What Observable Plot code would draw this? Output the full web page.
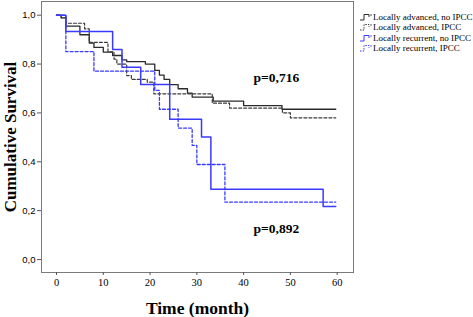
<!DOCTYPE html>
<html><head><meta charset="utf-8">
<script src="https://cdn.jsdelivr.net/npm/d3@7"></script>
<script src="https://cdn.jsdelivr.net/npm/@observablehq/plot@0.6"></script>
<style>
html,body{margin:0;padding:0;background:#fff;}
#wrap{position:relative;width:473px;height:317px;overflow:hidden;}
#legend{position:absolute;left:360px;top:11.5px;font-family:"Liberation Serif";font-size:9px;color:#000;white-space:nowrap;}
#legend .row{height:10.5px;line-height:10.5px;display:flex;align-items:center;}
#legend svg{margin-right:1px;}
</style></head><body><div id="wrap"></div>
<script>
// Series names (legend order)
const seriesNames = ["Locally advanced, no IPCC","Locally advanced, IPCC","Locally recurrent, no IPCC","Locally recurrent, IPCC"];
// Step survival curves: times (months) and cumulative survival
const laNoT  = [0,1,2,5,7,8,10,12,14,15,19,21,22,23,24.2,26,28,29,33.5,40,48.2,59.7];
const laNoS  = [1,0.989,0.955,0.92,0.886,0.868,0.849,0.835,0.817,0.81,0.80,0.774,0.755,0.737,0.716,0.699,0.681,0.665,0.648,0.63,0.615,0.615];
const laYesT = [0,1,2,6,7,11,12.3,12.9,15,16,19.4,20.8,33.3,37,48.3,50,59.7];
const laYesS = [1,0.99,0.967,0.944,0.889,0.85,0.82,0.80,0.753,0.737,0.726,0.678,0.64,0.62,0.60,0.58,0.58];
const lrNoT  = [0,2,12,14,18,24.2,31,33,57,59.7];
const lrNoS  = [1,0.933,0.86,0.787,0.716,0.574,0.502,0.288,0.217,0.217];
const lrYesT = [0,2,8,21,22,26,29,30,36,59.7];
const lrYesS = [1,0.851,0.771,0.692,0.615,0.538,0.467,0.389,0.235,0.235];
// Tick values
const xTicks = [0,10,20,30,40,50,60];
const yTicks = [0,0.2,0.4,0.6,0.8,1.0];
// p-value annotations
const pLabels = ["p=0,716","p=0,892"];
const pX = [47,47];
const pY = [0.746,0.127];

const styles = [
  {stroke:"#2a2a2a", dash:null, w:1.3},
  {stroke:"#3a3a3a", dash:"3,2", w:1.2},
  {stroke:"#3a3aff", dash:null, w:1.5},
  {stroke:"#3a3aff", dash:"3,2", w:1.3}
];
const sets = [[laNoT,laNoS],[laYesT,laYesS],[lrNoT,lrNoS],[lrYesT,lrYesS]];
const rows = sets.map(([T,S],k)=>T.map((t,i)=>({series:seriesNames[k], t, s:S[i]})));
const pData = pLabels.map((l,i)=>({label:l, x:pX[i], y:pY[i]}));

const fmt = d => d.toFixed(1).replace(".", ",");

const chart = Plot.plot({
  width:473, height:317,
  marginLeft:41, marginRight:120, marginTop:1, marginBottom:45,
  x:{domain:[-3.21,63.49]},
  y:{domain:[-0.053,1.056]},
  style:{background:"#fff", overflow:"visible"},
  marks:[
    Plot.frame({stroke:"#7a7a7a", strokeWidth:1}),
    Plot.axisY({ticks:yTicks, tickFormat:fmt, tickSize:4, tickPadding:2, label:null,
      fontFamily:"Liberation Sans", fontSize:9.5, stroke:"#555", fill:"#000"}),
    Plot.axisX({ticks:xTicks, tickSize:3, tickPadding:3, label:null,
      fontFamily:"Liberation Serif", fontSize:10.5, stroke:"#555", fill:"#000"}),
    ...rows.map((r,k)=>Plot.line(r,{x:"t", y:"s", curve:"step-after",
      stroke:styles[k].stroke, strokeWidth:styles[k].w, strokeDasharray:styles[k].dash})),
    Plot.text(pData,{x:"x", y:"y", text:"label", fontFamily:"Liberation Serif", fontWeight:"bold",
      fontSize:13.5, textAnchor:"middle", lineAnchor:"middle", fill:"#000"}),
    Plot.text(["Time (month)"],{frameAnchor:"bottom", text:d=>d, dy:35.7, textAnchor:"middle", lineAnchor:"middle",
      fontFamily:"Liberation Serif", fontWeight:"bold", fontSize:17.5, fill:"#000"}),
    Plot.text(["Cumulative Survival"],{frameAnchor:"left", text:d=>d, dx:-30.5, rotate:-90, textAnchor:"middle", lineAnchor:"middle",
      fontFamily:"Liberation Serif", fontWeight:"bold", fontSize:17, fill:"#000"})
  ]
});
const wrap = document.getElementById("wrap");
wrap.appendChild(chart);

// Legend
const legend = document.createElement("div");
legend.id = "legend";
seriesNames.forEach((name,k)=>{
  const row = document.createElement("div");
  row.className = "row";
  const st = styles[k];
  row.innerHTML = `<svg width="12" height="8" viewBox="0 0 12 8"><path d="M0,7 H4 V1.5 H9 V4" fill="none" stroke="${st.stroke}" stroke-width="1" ${st.dash?'stroke-dasharray="1.5,1.2"':''}/><path d="M11,1 V3" stroke="${st.stroke}" stroke-width="0.8"/></svg><span>${name}</span>`;
  legend.appendChild(row);
});
wrap.appendChild(legend);
</script>
</body></html>
